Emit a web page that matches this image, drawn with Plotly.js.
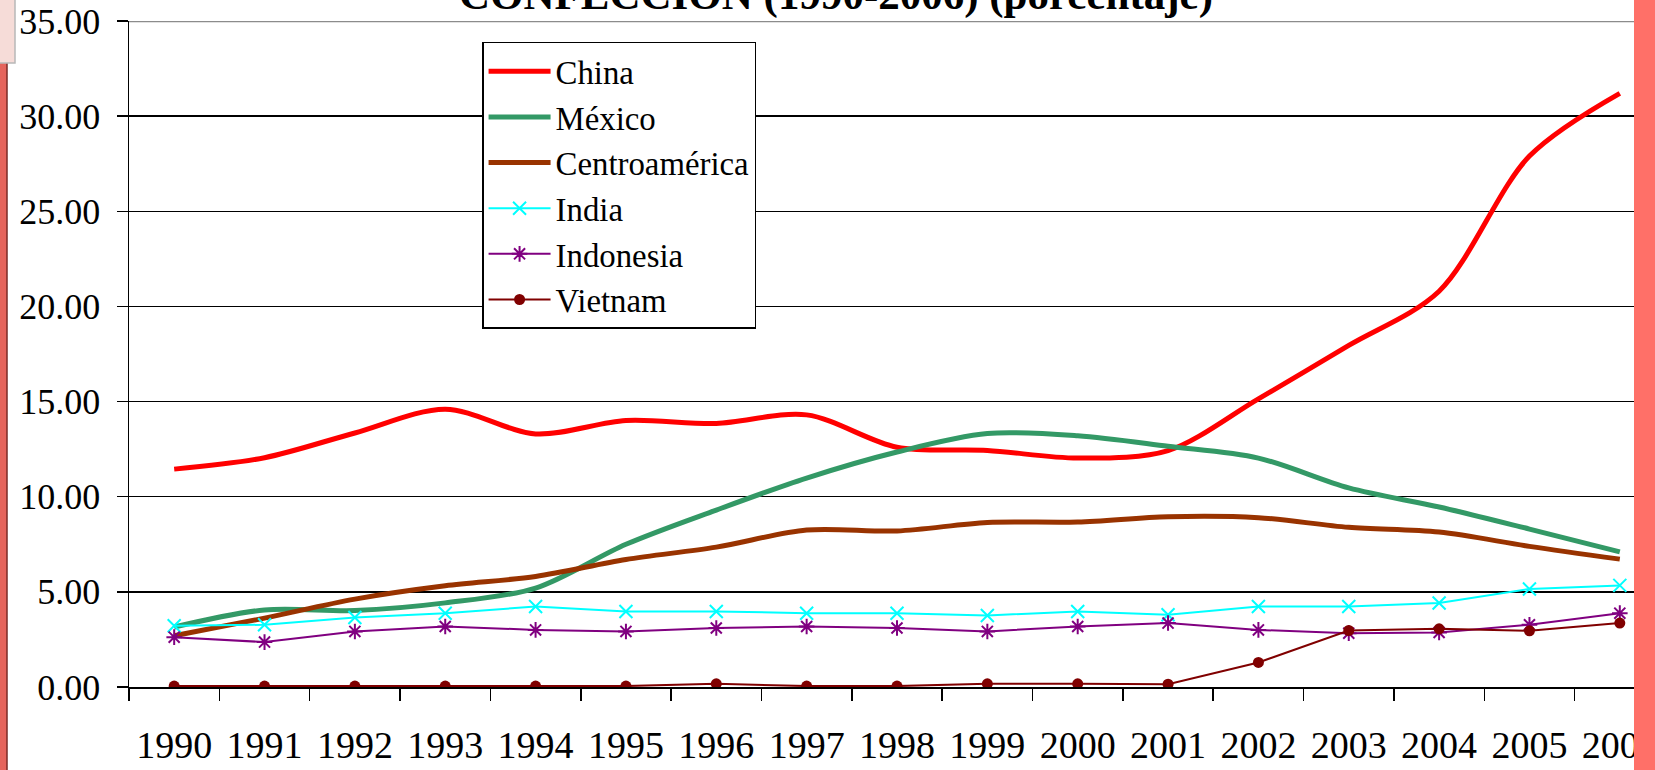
<!DOCTYPE html>
<html>
<head>
<meta charset="utf-8">
<script src="https://cdn.plot.ly/plotly-3.0.1.min.js"></script>
<style>
html,body{margin:0;padding:0;background:#fff;}
#chart{width:1655px;height:770px;}
</style>
</head>
<body>
<div id="chart"></div>
<script>
var years = ["1990","1991","1992","1993","1994","1995","1996","1997","1998","1999","2000","2001","2002","2003","2004","2005","2006"];
var china = [11.45, 12.05, 13.35, 14.6, 13.3, 14.0, 13.85, 14.3, 12.6, 12.43, 12.03, 12.42, 15.14, 17.95, 20.8, 27.9, 31.2];
var mexico = [3.15, 4.05, 4.02, 4.42, 5.2, 7.5, 9.3, 10.98, 12.35, 13.32, 13.2, 12.65, 12.03, 10.46, 9.46, 8.3, 7.1];
var centroamerica = [2.69, 3.62, 4.62, 5.32, 5.81, 6.7, 7.35, 8.25, 8.2, 8.65, 8.67, 8.95, 8.9, 8.39, 8.14, 7.39, 6.72];
var india = [3.22, 3.27, 3.65, 3.88, 4.23, 3.97, 3.97, 3.88, 3.88, 3.76, 3.97, 3.8, 4.23, 4.23, 4.41, 5.15, 5.34];
var indonesia = [2.62, 2.36, 2.92, 3.18, 3.0, 2.92, 3.1, 3.18, 3.1, 2.92, 3.18, 3.36, 3.0, 2.83, 2.87, 3.27, 3.88];
var vietnam = [0.05, 0.05, 0.05, 0.05, 0.05, 0.05, 0.17, 0.05, 0.05, 0.17, 0.17, 0.15, 1.29, 2.97, 3.06, 2.95, 3.36];
var seriesNames = ["China", "México", "Centroamérica", "India", "Indonesia", "Vietnam"];
var titleText = "CONFECCIÓN (1990-2006) (porcentaje)";
var sourceText = "Fuente: elaboración propia con base en USITC (2007)";

var FONT = "Liberation Serif, Times New Roman, serif";

var traces = [
  {x: years, y: china, name: seriesNames[0], type: "scatter", mode: "lines",
   line: {color: "#FF0000", width: 5, shape: "spline", smoothing: 0.9}},
  {x: years, y: mexico, name: seriesNames[1], type: "scatter", mode: "lines",
   line: {color: "#339966", width: 5, shape: "spline", smoothing: 0.9}},
  {x: years, y: centroamerica, name: seriesNames[2], type: "scatter", mode: "lines",
   line: {color: "#993300", width: 5, shape: "spline", smoothing: 0.9}},
  {x: years, y: india, name: seriesNames[3], type: "scatter", mode: "lines+markers",
   line: {color: "#00FFFF", width: 2},
   marker: {symbol: "x-thin-open", size: 13, color: "#00FFFF", line: {color: "#00FFFF", width: 2}}},
  {x: years, y: indonesia, name: seriesNames[4], type: "scatter", mode: "lines+markers",
   line: {color: "#800080", width: 2},
   marker: {symbol: "asterisk-open", size: 13, color: "#800080", line: {color: "#800080", width: 2}}},
  {x: years, y: vietnam, name: seriesNames[5], type: "scatter", mode: "lines+markers",
   line: {color: "#800000", width: 2},
   marker: {symbol: "circle", size: 11, color: "#800000"}}
];

var layout = {
  width: 1655, height: 770,
  margin: {l: 129, r: 21, t: 21, b: 83, pad: 0},
  paper_bgcolor: "#FFFFFF",
  plot_bgcolor: "#FFFFFF",
  font: {family: FONT, color: "#000000"},
  showlegend: true,
  legend: {
    x: 0.2346, y: 0.9685, xanchor: "left", yanchor: "top",
    bgcolor: "#FFFFFF", bordercolor: "#000000", borderwidth: 1.5,
    font: {family: FONT, size: 32.8, color: "#000000"},
    itemwidth: 62, tracegroupgap: 0
  },
  xaxis: {
    type: "category", range: [-0.5, 16.157],
    tickson: "boundaries", ticks: "outside", ticklen: 12, tickwidth: 1.5, tickcolor: "#000000",
    showline: true, linecolor: "#000000", linewidth: 1.5,
    showgrid: false, zeroline: false,
    tickfont: {family: FONT, size: 38, color: "#000000"},
    ticklabelstandoff: 24, ticklabeloverflow: "allow"
  },
  yaxis: {
    range: [0, 35], dtick: 5, tick0: 0, tickformat: ".2f",
    ticks: "outside", ticklen: 11, tickwidth: 1.5, tickcolor: "#000000",
    showline: true, linecolor: "#000000", linewidth: 1.5,
    showgrid: true, gridcolor: "#000000", gridwidth: 1.3, zeroline: false,
    tickfont: {family: FONT, size: 36, color: "#000000"},
    ticklabelstandoff: 9
  },
  annotations: [
    {text: "<b>" + titleText + "</b>", xref: "paper", yref: "paper",
     x: (836 - 129) / 1505, y: 1.0, xanchor: "center", yanchor: "bottom",
     showarrow: false, font: {family: FONT, size: 43, color: "#000000"}},
    {text: "<b>" + sourceText + "</b>", xref: "paper", yref: "paper",
     x: (895 - 129) / 1505, y: -0.1155, xanchor: "center", yanchor: "top",
     showarrow: false, font: {family: FONT, size: 40, color: "#000000"}}
  ],
  shapes: [
    {type: "line", xref: "paper", yref: "y", x0: 0, x1: 1, y0: 35, y1: 35,
     line: {color: "#8C8C8C", width: 2.5}, layer: "above"},
    {type: "rect", xref: "paper", yref: "paper", x0: 1, x1: 1.02, y0: -0.13, y1: 1.04,
     fillcolor: "#FF7068", line: {width: 0}, layer: "above"},
    {type: "rect", xref: "paper", yref: "paper", x0: -0.09, x1: (7 - 129) / 1505, y0: -0.13, y1: 1.04,
     fillcolor: "#E5645C", line: {width: 0}, layer: "above"},
    {type: "line", xref: "paper", yref: "paper", x0: (7 - 129) / 1505, x1: (7 - 129) / 1505, y0: -0.13, y1: (687 - 63) / 666,
     line: {color: "#7A2A26", width: 1.5}, layer: "above"},
    {type: "rect", xref: "paper", yref: "paper", x0: -0.09, x1: (15 - 129) / 1505, y0: (687 - 63) / 666, y1: 1.04,
     fillcolor: "#F6DCD8", line: {color: "#B8B8B8", width: 1.5}, layer: "above"}
  ]
};

Plotly.newPlot("chart", traces, layout, {displayModeBar: false, staticPlot: true});
</script>
</body>
</html>
